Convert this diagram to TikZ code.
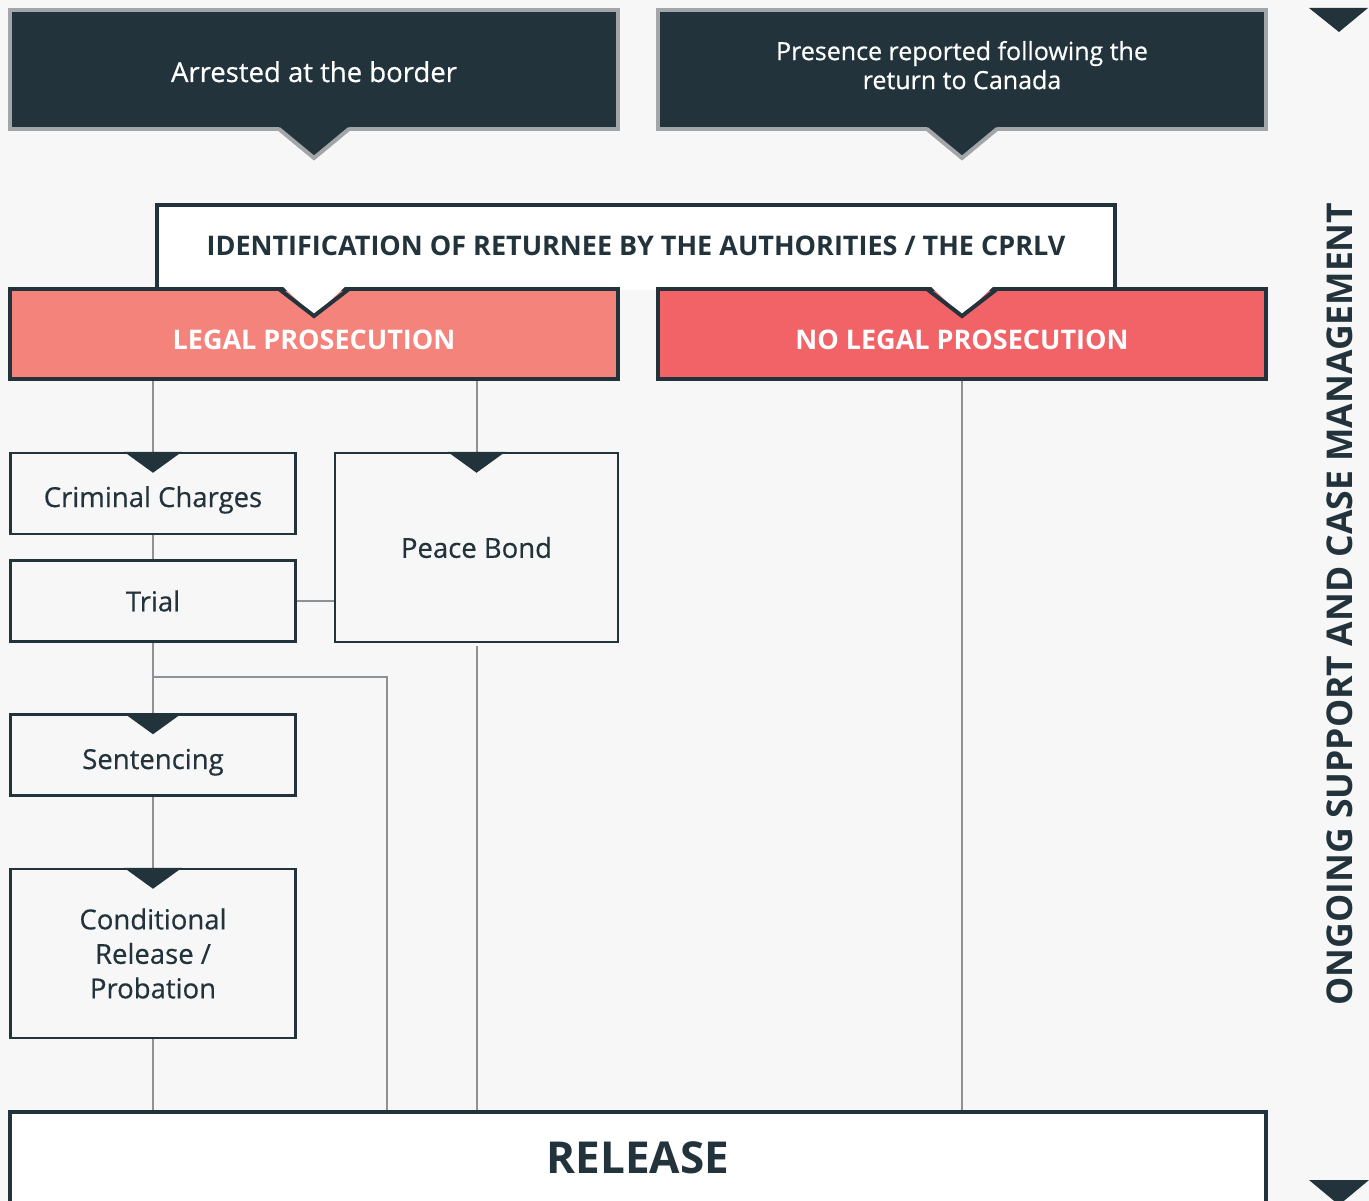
\documentclass[tikz,border=0pt]{standalone}
\usepackage{fontspec}
\setmainfont{Open Sans}
\newfontfamily\mediumfont{Open Sans}[FakeBold=0.5]
\usetikzlibrary{positioning}
\definecolor{navy}{HTML}{22333B}
\definecolor{edgegrey}{HTML}{A3A6A9}
\definecolor{linkgrey}{HTML}{8E9195}
\definecolor{salmon}{HTML}{F3837B}
\definecolor{coral}{HTML}{F16366}
\definecolor{paper}{HTML}{F7F7F7}
\tikzstyle{topbox}=[%
  draw=edgegrey,
  fill=navy,
  line width=4pt,
  minimum width=608pt,
  minimum height=119pt,
  text=white,
  align=center,
  font=\mediumfont\fontsize{27.5}{29}\selectfont
]
\tikzstyle{redbox}=[%
  draw=navy,
  line width=4pt,
  minimum width=608pt,
  minimum height=90pt
]
\tikzstyle{redtext}=[%
  text=white,
  font=\bfseries\fontsize{27}{30}\selectfont
]
\tikzstyle{stagebox}=[%
  draw=navy,
  line width=2.5pt,
  minimum width=285pt,
  minimum height=81pt,
  text=navy,
  align=center,
  font=\mediumfont\fontsize{27.5}{34.5}\selectfont
]
\tikzstyle{link}=[%
  draw=linkgrey,
  line width=2pt
]

\begin{document}
\begin{tikzpicture}[x=1pt, y=-1pt]
      \fill[paper] (0,0) rectangle (1369,1201);
      \useasboundingbox (0,0) rectangle (1369,1201);
      % entry points
      \node[topbox, text height=25pt, text depth=0pt] (border) at (314,69.5) {Arrested at the border};
      \node[topbox, font=\mediumfont\fontsize{25}{29}\selectfont, text depth=9pt] (canada) at (962,69.5) {Presence reported following the\\return to Canada};
      \foreach \n in {border, canada} {%
        \fill[navy] ([shift={(-36pt,5pt)}]\n.south) -- ([shift={(36pt,5pt)}]\n.south) -- ([yshift=-27pt]\n.south) -- cycle;
        \draw[edgegrey, line width=4pt] ([shift={(-35pt,2pt)}]\n.south) -- ([yshift=-27pt]\n.south) -- ([shift={(35pt,2pt)}]\n.south);
      }
      % identification
      \fill[white] (157,205) rectangle (1115,290);
      \draw[navy, line width=4pt] (157,289) -- (157,205) -- (1115,205) -- (1115,289);
      \node[text=navy, font=\bfseries\fontsize{27}{30}\selectfont] (ident) at (636,246) {IDENTIFICATION OF RETURNEE BY THE AUTHORITIES / THE CPRLV};
      % prosecution or not
      \node[redbox, fill=salmon] (legal) at (314,334) {};
      \node[redbox, fill=coral] (nolegal) at (962,334) {};
      \foreach \n in {legal, nolegal} {%
        \fill[white] ([shift={(-35pt,4pt)}]\n.north) -- ([shift={(35pt,4pt)}]\n.north) -- ([yshift=-29pt]\n.north) -- cycle;
        \draw[navy, line width=4pt] ([shift={(-35pt,-2pt)}]\n.north) -- ([yshift=-29pt]\n.north) -- ([shift={(35pt,-2pt)}]\n.north);
      }
      \node[redtext] (legaltext) at ([yshift=-6pt]legal.center) {LEGAL PROSECUTION};
      \node[redtext] (nolegaltext) at ([yshift=-6pt]nolegal.center) {NO LEGAL PROSECUTION};
      % stages
      \node[stagebox, text height=27pt, text depth=0pt] (charges) at (153,493.5) {Criminal Charges};
      \node[stagebox] (trial) at (153,601) {Trial};
      \node[stagebox, minimum width=283pt, minimum height=189pt] (bond) at (476.5,547.5) {Peace Bond};
      \node[stagebox, text height=28pt, text depth=0pt] (sentencing) at (153,755) {Sentencing};
      \node[stagebox, minimum height=169pt] (probation) at (153,953.5) {Conditional\\Release /\\Probation};
      \node[draw=navy, fill=white, line width=4pt, minimum width=1256pt, minimum height=91pt,
            text=navy, font=\bfseries\fontsize{44}{50}\selectfont] (release) at (638,1157.5) {RELEASE};
      % connectors
      \coordinate (fork) at (387,677);
      \draw[link] (charges.north |- legal.south) -- (charges.north);
      \draw[link] (bond.north |- legal.south) -- (bond.north);
      \draw[link] (charges) -- (trial);
      \draw[link] (trial.east) -- (bond.west |- trial.east);
      \draw[link] (trial) -- (sentencing);
      \draw[link] (trial.south |- fork) -- (fork) -- (fork |- release.north);
      \draw[link] (sentencing) -- (probation);
      \draw[link] (probation) -- (probation.south |- release.north);
      \draw[link] ([yshift=-3pt]bond.south) -- (bond.south |- release.north);
      \draw[link] (nolegal.south) -- (nolegal.south |- release.north);
      \foreach \n in {charges, bond, sentencing, probation} {%
        \fill[navy] ([xshift=-29pt]\n.north) -- ([xshift=29pt]\n.north) -- ([yshift=-21pt]\n.north) -- cycle;
      }
      % support band
      \node[rotate=90, text=navy, font=\bfseries\fontsize{35.5}{40}\selectfont] (support) at (1340,604) {ONGOING SUPPORT AND CASE MANAGEMENT};
      \fill[navy] (1309,8) -- (1368,8) -- (1339,32) -- cycle;
      \fill[navy] (1309,1180) -- (1369,1180) -- (1339,1205) -- cycle;
    \end{tikzpicture}
\end{document}
